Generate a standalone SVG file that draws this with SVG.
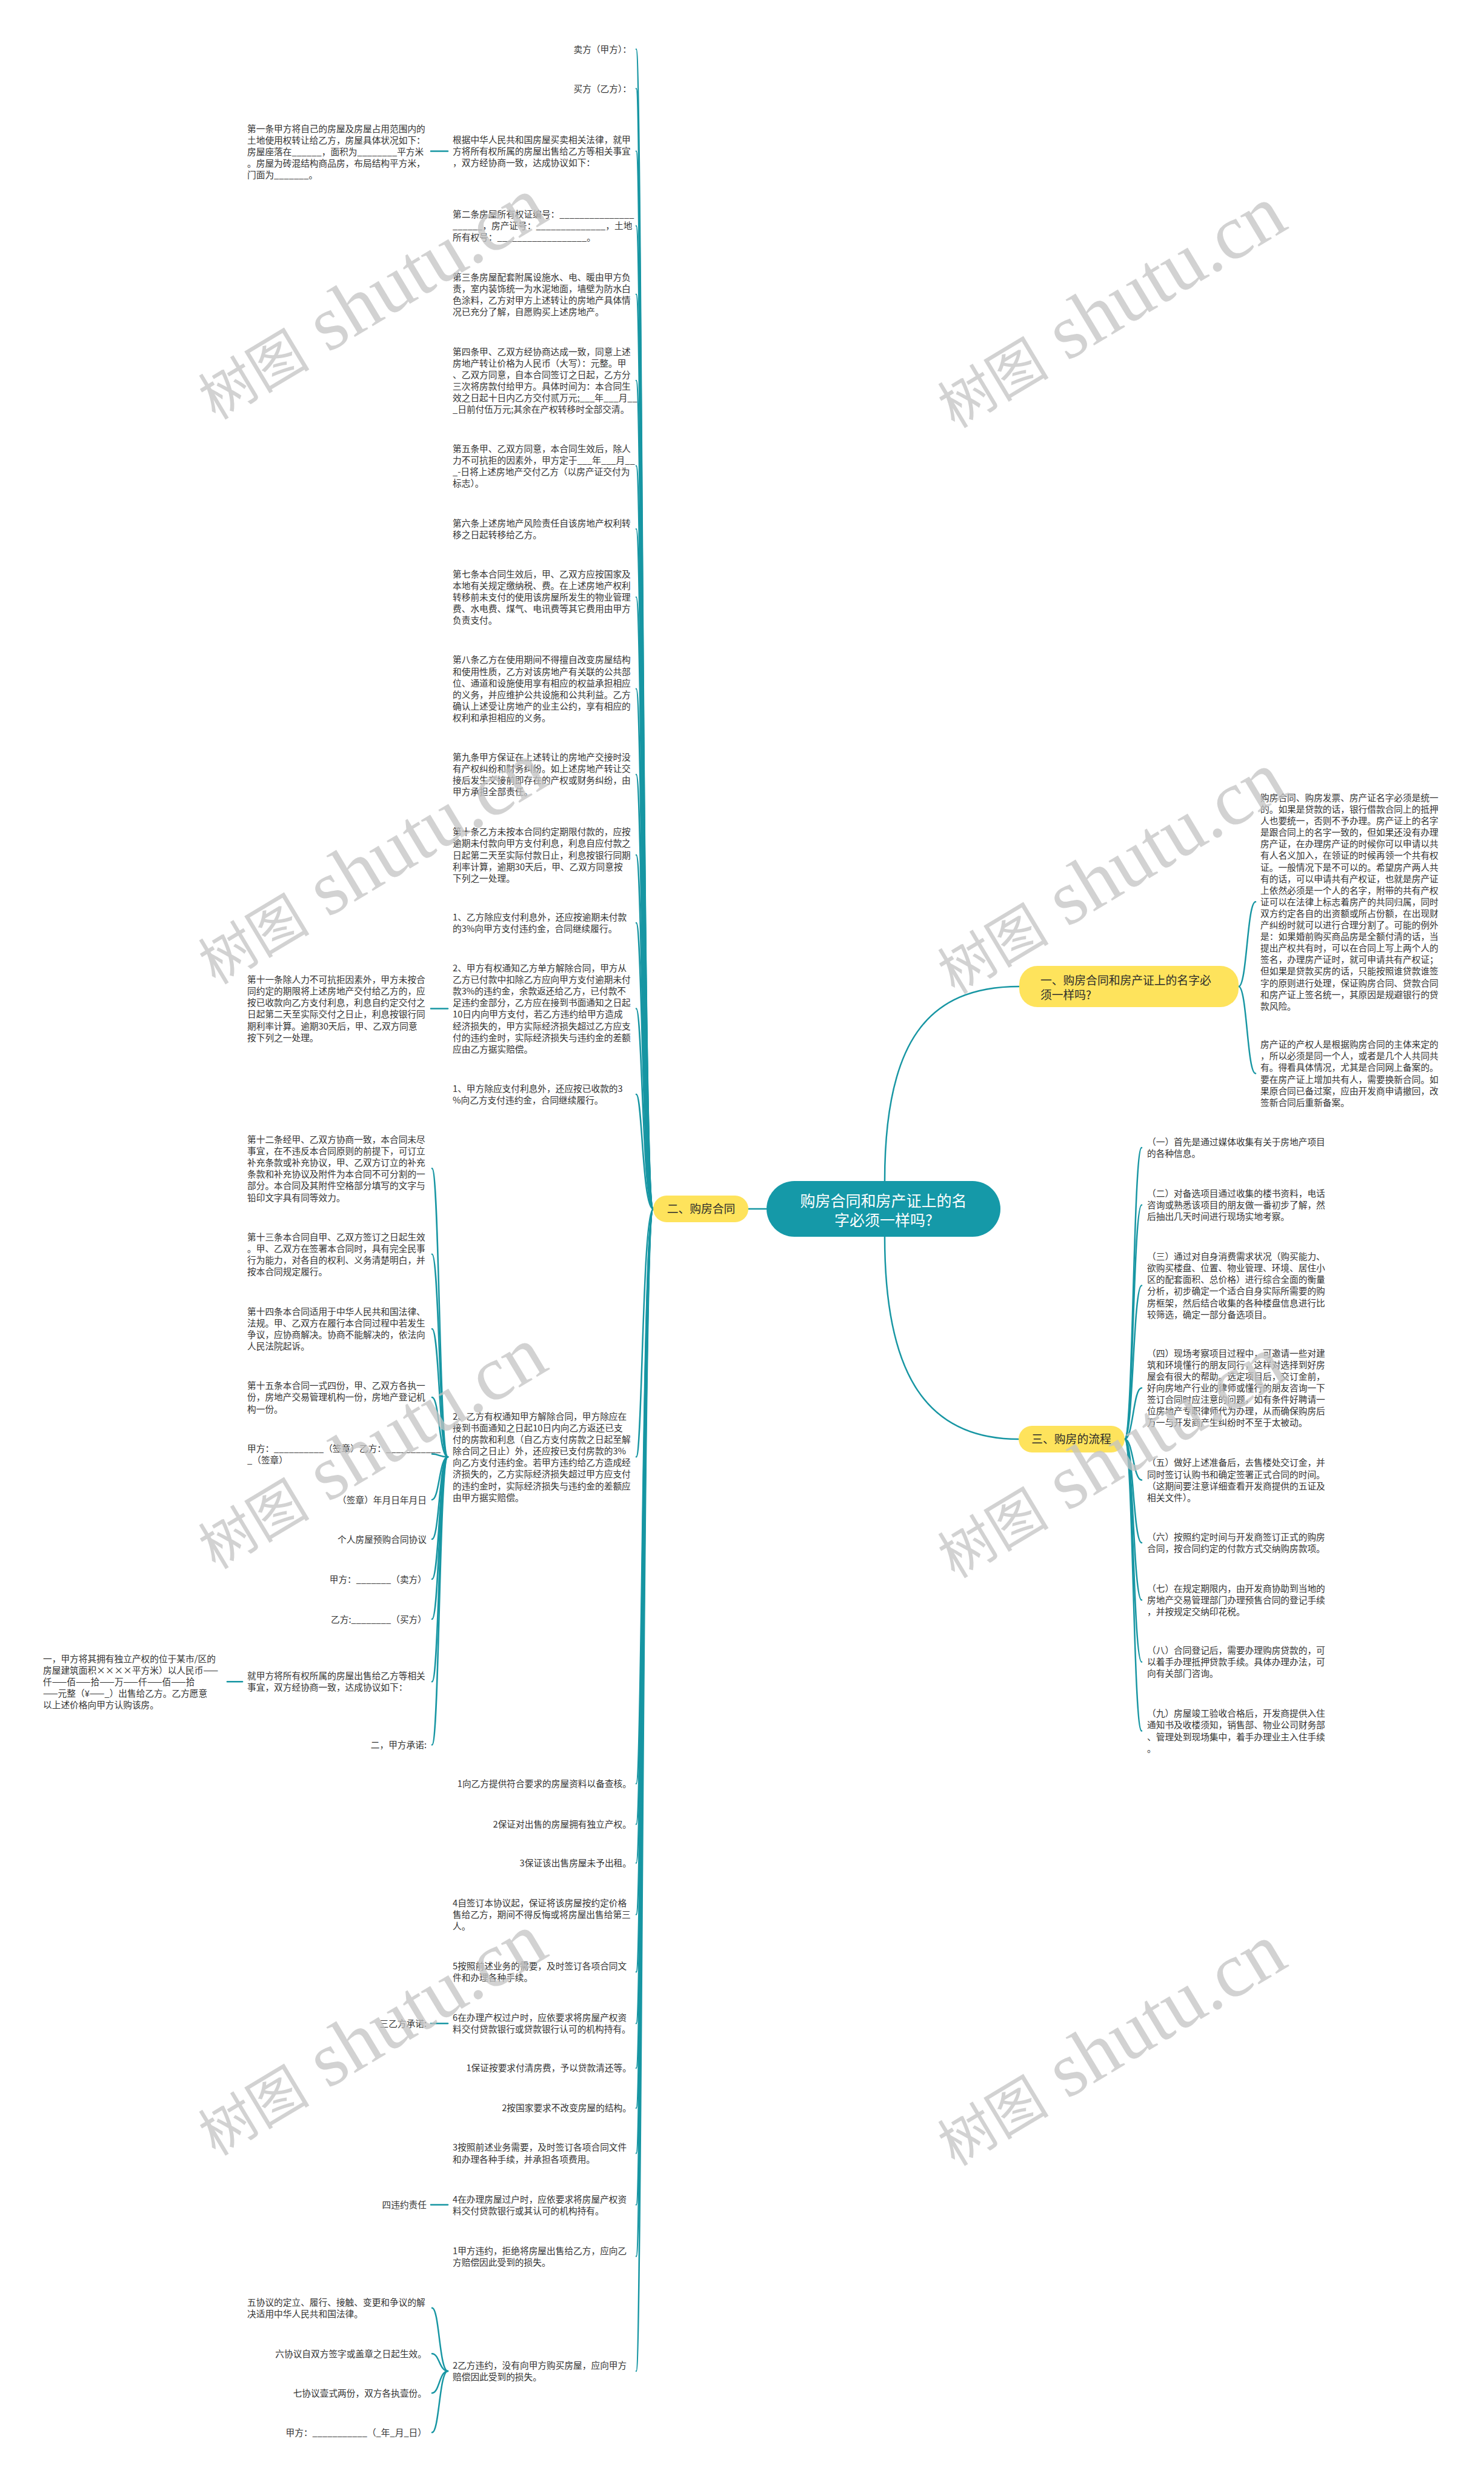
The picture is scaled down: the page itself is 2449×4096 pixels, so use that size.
<svg xmlns="http://www.w3.org/2000/svg" width="2449" height="4096" viewBox="0 0 2449 4096">
<style>
.t{font-family:"Noto Sans CJK SC","Liberation Sans",sans-serif;font-size:14.7px;fill:#333}
.e{text-anchor:end}
.yl{font-family:"Noto Sans CJK SC","Liberation Sans",sans-serif;font-size:18.8px;fill:#2b2b2b}
.ct{font-family:"Noto Sans CJK SC","Liberation Sans",sans-serif;font-size:25px;fill:#fff;text-anchor:middle}
.ln{fill:none;stroke:#1796a3;stroke-width:2.5;stroke-linecap:round}
.yn{fill:#fee35c}
.wm{font-family:"Liberation Serif","Noto Sans CJK SC",serif;fill:#c4c4c4;opacity:.75;text-anchor:middle}
</style>
<rect width="2449" height="4096" fill="#fff"/>
<g id="connectors">
<path class="ln" d="M1265,1995 H1235"/>
<path class="ln" d="M1460,1949 C1460,1720 1530,1628 1682,1628"/>
<path class="ln" d="M1460,2041 C1460,2270 1530,2375 1681,2375"/>
<path class="ln" d="M1078,1995 C1060,1995 1060,81.3 1050,81.3"/>
<path class="ln" d="M1078,1995 C1060,1995 1060,146.3 1050,146.3"/>
<path class="ln" d="M1078,1995 C1060,1995 1060,249.5 1050,249.5"/>
<path class="ln" d="M1078,1995 C1060,1995 1060,372.8 1050,372.8"/>
<path class="ln" d="M1078,1995 C1060,1995 1060,485.7 1050,485.7"/>
<path class="ln" d="M1078,1995 C1060,1995 1060,628.1 1050,628.1"/>
<path class="ln" d="M1078,1995 C1060,1995 1060,768.7 1050,768.7"/>
<path class="ln" d="M1078,1995 C1060,1995 1060,872.9 1050,872.9"/>
<path class="ln" d="M1078,1995 C1060,1995 1060,985.6 1050,985.6"/>
<path class="ln" d="M1078,1995 C1060,1995 1060,1136.7 1050,1136.7"/>
<path class="ln" d="M1078,1995 C1060,1995 1060,1278.2 1050,1278.2"/>
<path class="ln" d="M1078,1995 C1060,1995 1060,1411 1050,1411"/>
<path class="ln" d="M1078,1995 C1060,1995 1060,1522.9 1050,1522.9"/>
<path class="ln" d="M1078,1995 C1060,1995 1060,1664.4 1050,1664.4"/>
<path class="ln" d="M1078,1995 C1060,1995 1060,1805.9 1050,1805.9"/>
<path class="ln" d="M1078,1995 C1060,1995 1060,2404.3 1050,2404.3"/>
<path class="ln" d="M1078,1995 C1060,1995 1060,2943.5 1050,2943.5"/>
<path class="ln" d="M1078,1995 C1060,1995 1060,3010.4 1050,3010.4"/>
<path class="ln" d="M1078,1995 C1060,1995 1060,3074.5 1050,3074.5"/>
<path class="ln" d="M1078,1995 C1060,1995 1060,3159.6 1050,3159.6"/>
<path class="ln" d="M1078,1995 C1060,1995 1060,3254.3 1050,3254.3"/>
<path class="ln" d="M1078,1995 C1060,1995 1060,3339.3 1050,3339.3"/>
<path class="ln" d="M1078,1995 C1060,1995 1060,3412.9 1050,3412.9"/>
<path class="ln" d="M1078,1995 C1060,1995 1060,3478.9 1050,3478.9"/>
<path class="ln" d="M1078,1995 C1060,1995 1060,3553.5 1050,3553.5"/>
<path class="ln" d="M1078,1995 C1060,1995 1060,3638.6 1050,3638.6"/>
<path class="ln" d="M1078,1995 C1060,1995 1060,3723.6 1050,3723.6"/>
<path class="ln" d="M1078,1995 C1060,1995 1060,3912.9 1050,3912.9"/>
<path class="ln" d="M739,249.5 H711"/>
<path class="ln" d="M739,1664.4 H711"/>
<path class="ln" d="M739,3339.3 H711"/>
<path class="ln" d="M739,3638.6 H711"/>
<path class="ln" d="M400,2775.2 H375"/>
<path class="ln" d="M739,2404.3 C725,2404.3 725,1928.3 713,1928.3"/>
<path class="ln" d="M739,2404.3 C725,2404.3 725,2069.7 713,2069.7"/>
<path class="ln" d="M739,2404.3 C725,2404.3 725,2193.1 713,2193.1"/>
<path class="ln" d="M739,2404.3 C725,2404.3 725,2305.9 713,2305.9"/>
<path class="ln" d="M739,2404.3 C725,2404.3 725,2399.6 713,2399.6"/>
<path class="ln" d="M739,2404.3 C725,2404.3 725,2475 713,2475"/>
<path class="ln" d="M739,2404.3 C725,2404.3 725,2540 713,2540"/>
<path class="ln" d="M739,2404.3 C725,2404.3 725,2606 713,2606"/>
<path class="ln" d="M739,2404.3 C725,2404.3 725,2672 713,2672"/>
<path class="ln" d="M739,2404.3 C725,2404.3 725,2775.2 713,2775.2"/>
<path class="ln" d="M739,2404.3 C725,2404.3 725,2879.5 713,2879.5"/>
<path class="ln" d="M739,3912.9 C725,3912.9 725,3808.7 713,3808.7"/>
<path class="ln" d="M739,3912.9 C725,3912.9 725,3884.2 713,3884.2"/>
<path class="ln" d="M739,3912.9 C725,3912.9 725,3949.2 713,3949.2"/>
<path class="ln" d="M739,3912.9 C725,3912.9 725,4014.2 713,4014.2"/>
<path class="ln" d="M2044,1628 C2058,1628 2058,1488.3 2072,1488.3"/>
<path class="ln" d="M2044,1628 C2058,1628 2058,1771.5 2072,1771.5"/>
<path class="ln" d="M1856,2375 C1870,2375 1870,1893.9 1884,1893.9"/>
<path class="ln" d="M1856,2375 C1870,2375 1870,1988.5 1884,1988.5"/>
<path class="ln" d="M1856,2375 C1870,2375 1870,2121.4 1884,2121.4"/>
<path class="ln" d="M1856,2375 C1870,2375 1870,2290.5 1884,2290.5"/>
<path class="ln" d="M1856,2375 C1870,2375 1870,2442.5 1884,2442.5"/>
<path class="ln" d="M1856,2375 C1870,2375 1870,2545.9 1884,2545.9"/>
<path class="ln" d="M1856,2375 C1870,2375 1870,2640.5 1884,2640.5"/>
<path class="ln" d="M1856,2375 C1870,2375 1870,2742.7 1884,2742.7"/>
<path class="ln" d="M1856,2375 C1870,2375 1870,2856.5 1884,2856.5"/>
</g>
<g id="root">
<rect x="1265" y="1949" width="386" height="92" rx="46" fill="#1599a8"/>
<text class="ct"><tspan x="1458" y="1991">购房合同和房产证上的名</tspan><tspan x="1458" y="2023">字必须一样吗?</tspan></text>
</g>
<g id="b1">
<rect class="yn" x="1682" y="1594" width="362" height="68" rx="30"/>
<text class="yl"><tspan x="1717" y="1625">一、购房合同和房产证上的名字必</tspan><tspan x="1717" y="1649">须一样吗?</tspan></text>
</g>
<g id="b2">
<rect class="yn" x="1078" y="1973" width="157" height="44" rx="22"/>
<text class="yl" text-anchor="middle" x="1157" y="2001.7">二、购房合同</text>
</g>
<g id="b3">
<rect class="yn" x="1681" y="2353" width="175" height="44" rx="22"/>
<text class="yl" text-anchor="middle" x="1768" y="2381.7">三、购房的流程</text>
</g>
<g id="a1"><text class="t e" x="1042" y="86.8">卖方（甲方）：</text></g>
<g id="a2"><text class="t e" x="1042" y="151.8">买方（乙方）：</text></g>
<g id="a3"><text class="t"><tspan x="747" y="235.9">根据中华人民共和国房屋买卖相关法律，就甲</tspan><tspan x="747" y="255">方将所有权所属的房屋出售给乙方等相关事宜</tspan><tspan x="747" y="274.1">，双方经协商一致，达成协议如下：</tspan></text></g>
<g id="a4"><text class="t"><tspan x="747" y="359.2">第二条房屋所有权证编号：_______________</tspan><tspan x="747" y="378.3">______，房产证号：______________，土地</tspan><tspan x="747" y="397.4">所有权号：__________________。</tspan></text></g>
<g id="a5"><text class="t"><tspan x="747" y="462.5">第三条房屋配套附属设施水、电、暖由甲方负</tspan><tspan x="747" y="481.6">责，室内装饰统一为水泥地面，墙壁为防水白</tspan><tspan x="747" y="500.7">色涂料，乙方对甲方上述转让的房地产具体情</tspan><tspan x="747" y="519.8">况已充分了解，自愿购买上述房地产。</tspan></text></g>
<g id="a6"><text class="t"><tspan x="747" y="585.8">第四条甲、乙双方经协商达成一致，同意上述</tspan><tspan x="747" y="604.9">房地产转让价格为人民币（大写）：元整。甲</tspan><tspan x="747" y="624">、乙双方同意，自本合同签订之日起，乙方分</tspan><tspan x="747" y="643.1">三次将房款付给甲方。具体时间为：本合同生</tspan><tspan x="747" y="662.2">效之日起十日内乙方交付贰万元;___年___月__</tspan><tspan x="747" y="681.3">_日前付伍万元;其余在产权转移时全部交清。</tspan></text></g>
<g id="a7"><text class="t"><tspan x="747" y="745.5">第五条甲、乙双方同意，本合同生效后，除人</tspan><tspan x="747" y="764.6">力不可抗拒的因素外，甲方定于___年___月__</tspan><tspan x="747" y="783.7">_-日将上述房地产交付乙方（以房产证交付为</tspan><tspan x="747" y="802.8">标志）。</tspan></text></g>
<g id="a8"><text class="t"><tspan x="747" y="868.8">第六条上述房地产风险责任自该房地产权利转</tspan><tspan x="747" y="887.9">移之日起转移给乙方。</tspan></text></g>
<g id="a9"><text class="t"><tspan x="747" y="952.9">第七条本合同生效后，甲、乙双方应按国家及</tspan><tspan x="747" y="972">本地有关规定缴纳税、费。在上述房地产权利</tspan><tspan x="747" y="991.1">转移前未支付的使用该房屋所发生的物业管理</tspan><tspan x="747" y="1010.2">费、水电费、煤气、电讯费等其它费用由甲方</tspan><tspan x="747" y="1029.3">负责支付。</tspan></text></g>
<g id="a10"><text class="t"><tspan x="747" y="1094.4">第八条乙方在使用期间不得擅自改变房屋结构</tspan><tspan x="747" y="1113.5">和使用性质，乙方对该房地产有关联的公共部</tspan><tspan x="747" y="1132.6">位、通道和设施使用享有相应的权益承担相应</tspan><tspan x="747" y="1151.7">的义务，并应维护公共设施和公共利益。乙方</tspan><tspan x="747" y="1170.8">确认上述受让房地产的业主公约，享有相应的</tspan><tspan x="747" y="1189.9">权利和承担相应的义务。</tspan></text></g>
<g id="a11"><text class="t"><tspan x="747" y="1255">第九条甲方保证在上述转让的房地产交接时没</tspan><tspan x="747" y="1274.1">有产权纠纷和财务纠纷。如上述房地产转让交</tspan><tspan x="747" y="1293.2">接后发生交接前即存在的产权或财务纠纷，由</tspan><tspan x="747" y="1312.3">甲方承担全部责任。</tspan></text></g>
<g id="a12"><text class="t"><tspan x="747" y="1378.3">第十条乙方未按本合同约定期限付款的，应按</tspan><tspan x="747" y="1397.4">逾期未付款向甲方支付利息，利息自应付款之</tspan><tspan x="747" y="1416.5">日起第二天至实际付款日止，利息按银行同期</tspan><tspan x="747" y="1435.6">利率计算，逾期30天后，甲、乙双方同意按</tspan><tspan x="747" y="1454.7">下列之一处理。</tspan></text></g>
<g id="a13"><text class="t"><tspan x="747" y="1518.8">1、乙方除应支付利息外，还应按逾期未付款</tspan><tspan x="747" y="1537.9">的3%向甲方支付违约金，合同继续履行。</tspan></text></g>
<g id="a14"><text class="t"><tspan x="747" y="1603">2、甲方有权通知乙方单方解除合同，甲方从</tspan><tspan x="747" y="1622.1">乙方已付款中扣除乙方应向甲方支付逾期未付</tspan><tspan x="747" y="1641.2">款3%的违约金，余款返还给乙方，已付款不</tspan><tspan x="747" y="1660.3">足违约金部分，乙方应在接到书面通知之日起</tspan><tspan x="747" y="1679.4">10日内向甲方支付，若乙方违约给甲方造成</tspan><tspan x="747" y="1698.5">经济损失的，甲方实际经济损失超过乙方应支</tspan><tspan x="747" y="1717.6">付的违约金时，实际经济损失与违约金的差额</tspan><tspan x="747" y="1736.7">应由乙方据实赔偿。</tspan></text></g>
<g id="a15"><text class="t"><tspan x="747" y="1801.8">1、甲方除应支付利息外，还应按已收款的3</tspan><tspan x="747" y="1820.9">%向乙方支付违约金，合同继续履行。</tspan></text></g>
<g id="a16"><text class="t"><tspan x="747" y="2342.9">2、乙方有权通知甲方解除合同，甲方除应在</tspan><tspan x="747" y="2362">接到书面通知之日起10日内向乙方返还已支</tspan><tspan x="747" y="2381.1">付的房款和利息（自乙方支付房款之日起至解</tspan><tspan x="747" y="2400.2">除合同之日止）外，还应按已支付房款的3%</tspan><tspan x="747" y="2419.3">向乙方支付违约金。若甲方违约给乙方造成经</tspan><tspan x="747" y="2438.4">济损失的，乙方实际经济损失超过甲方应支付</tspan><tspan x="747" y="2457.5">的违约金时，实际经济损失与违约金的差额应</tspan><tspan x="747" y="2476.6">由甲方据实赔偿。</tspan></text></g>
<g id="a17"><text class="t e" x="1042" y="2949">1向乙方提供符合要求的房屋资料以备查核。</text></g>
<g id="a18"><text class="t e" x="1042" y="3015.9">2保证对出售的房屋拥有独立产权。</text></g>
<g id="a19"><text class="t e" x="1042" y="3080">3保证该出售房屋未予出租。</text></g>
<g id="a20"><text class="t"><tspan x="747" y="3146">4自签订本协议起，保证将该房屋按约定价格</tspan><tspan x="747" y="3165.1">售给乙方，期间不得反悔或将房屋出售给第三</tspan><tspan x="747" y="3184.2">人。</tspan></text></g>
<g id="a21"><text class="t"><tspan x="747" y="3250.2">5按照前述业务的需要，及时签订各项合同文</tspan><tspan x="747" y="3269.3">件和办理各种手续。</tspan></text></g>
<g id="a22"><text class="t"><tspan x="747" y="3335.2">6在办理产权过户时，应依要求将房屋产权资</tspan><tspan x="747" y="3354.3">料交付贷款银行或贷款银行认可的机构持有。</tspan></text></g>
<g id="a23"><text class="t e" x="1042" y="3418.4">1保证按要求付清房费，予以贷款清还等。</text></g>
<g id="a24"><text class="t e" x="1042" y="3484.4">2按国家要求不改变房屋的结构。</text></g>
<g id="a25"><text class="t"><tspan x="747" y="3549.4">3按照前述业务需要，及时签订各项合同文件</tspan><tspan x="747" y="3568.5">和办理各种手续，并承担各项费用。</tspan></text></g>
<g id="a26"><text class="t"><tspan x="747" y="3634.5">4在办理房屋过户时，应依要求将房屋产权资</tspan><tspan x="747" y="3653.6">料交付贷款银行或其认可的机构持有。</tspan></text></g>
<g id="a27"><text class="t"><tspan x="747" y="3719.5">1甲方违约，拒绝将房屋出售给乙方，应向乙</tspan><tspan x="747" y="3738.6">方赔偿因此受到的损失。</tspan></text></g>
<g id="a28"><text class="t"><tspan x="747" y="3908.8">2乙方违约，没有向甲方购买房屋，应向甲方</tspan><tspan x="747" y="3927.9">赔偿因此受到的损失。</tspan></text></g>
<g id="bb1"><text class="t"><tspan x="408" y="217.7">第一条甲方将自己的房屋及房屋占用范围内的</tspan><tspan x="408" y="236.8">土地使用权转让给乙方，房屋具体状况如下：</tspan><tspan x="408" y="255.9">房屋座落在______，面积为________平方米</tspan><tspan x="408" y="275">。房屋为砖混结构商品房，布局结构平方米，</tspan><tspan x="408" y="294.1">门面为_______。</tspan></text></g>
<g id="bb2"><text class="t"><tspan x="408" y="1622.1">第十一条除人力不可抗拒因素外，甲方未按合</tspan><tspan x="408" y="1641.2">同约定的期限将上述房地产交付给乙方的，应</tspan><tspan x="408" y="1660.3">按已收款向乙方支付利息，利息自约定交付之</tspan><tspan x="408" y="1679.4">日起第二天至实际交付之日止，利息按银行同</tspan><tspan x="408" y="1698.5">期利率计算。逾期30天后，甲、乙双方同意</tspan><tspan x="408" y="1717.6">按下列之一处理。</tspan></text></g>
<g id="bb3"><text class="t"><tspan x="408" y="1886">第十二条经甲、乙双方协商一致，本合同未尽</tspan><tspan x="408" y="1905.1">事宜，在不违反本合同原则的前提下，可订立</tspan><tspan x="408" y="1924.2">补充条款或补充协议，甲、乙双方订立的补充</tspan><tspan x="408" y="1943.3">条款和补充协议及附件为本合同不可分割的一</tspan><tspan x="408" y="1962.4">部分。本合同及其附件空格部分填写的文字与</tspan><tspan x="408" y="1981.5">铅印文字具有同等效力。</tspan></text></g>
<g id="bb4"><text class="t"><tspan x="408" y="2046.5">第十三条本合同自甲、乙双方签订之日起生效</tspan><tspan x="408" y="2065.6">。甲、乙双方在签署本合同时，具有完全民事</tspan><tspan x="408" y="2084.7">行为能力，对各自的权利、义务清楚明白，并</tspan><tspan x="408" y="2103.8">按本合同规定履行。</tspan></text></g>
<g id="bb5"><text class="t"><tspan x="408" y="2169.9">第十四条本合同适用于中华人民共和国法律、</tspan><tspan x="408" y="2189">法规。甲、乙双方在履行本合同过程中若发生</tspan><tspan x="408" y="2208.1">争议，应协商解决。协商不能解决的，依法向</tspan><tspan x="408" y="2227.2">人民法院起诉。</tspan></text></g>
<g id="bb6"><text class="t"><tspan x="408" y="2292.3">第十五条本合同一式四份，甲、乙双方各执一</tspan><tspan x="408" y="2311.4">份，房地产交易管理机构一份，房地产登记机</tspan><tspan x="408" y="2330.5">构一份。</tspan></text></g>
<g id="bb7"><text class="t"><tspan x="408" y="2395.5">甲方：__________（签章）乙方：___________</tspan><tspan x="408" y="2414.6">_（签章）</tspan></text></g>
<g id="bb8"><text class="t e" x="704" y="2480.5">（签章）年月日年月日</text></g>
<g id="bb9"><text class="t e" x="704" y="2545.5">个人房屋预购合同协议</text></g>
<g id="bb10"><text class="t e" x="704" y="2611.5">甲方：_______（卖方）</text></g>
<g id="bb11"><text class="t e" x="704" y="2677.5">乙方:________（买方）</text></g>
<g id="bb12"><text class="t"><tspan x="408" y="2771.2">就甲方将所有权所属的房屋出售给乙方等相关</tspan><tspan x="408" y="2790.3">事宜，双方经协商一致，达成协议如下：</tspan></text></g>
<g id="bb13"><text class="t e" x="704" y="2885">二，甲方承诺:</text></g>
<g id="bb14"><text class="t e" x="704" y="3344.8">三乙方承诺:</text></g>
<g id="bb15"><text class="t e" x="704" y="3644">四违约责任</text></g>
<g id="bb16"><text class="t"><tspan x="408" y="3804.6">五协议的定立、履行、接触、变更和争议的解</tspan><tspan x="408" y="3823.7">决适用中华人民共和国法律。</tspan></text></g>
<g id="bb17"><text class="t e" x="704" y="3889.7">六协议自双方签字或盖章之日起生效。</text></g>
<g id="bb18"><text class="t e" x="704" y="3954.7">七协议壹式两份，双方各执壹份。</text></g>
<g id="bb19"><text class="t e" x="704" y="4019.7">甲方：___________（_年_月_日）</text></g>
<g id="c1"><text class="t"><tspan x="71" y="2742.5">一，甲方将其拥有独立产权的位于某市/区的</tspan><tspan x="71" y="2761.6">房屋建筑面积××××平方米）以人民币——</tspan><tspan x="71" y="2780.7">仟——佰——拾——万——仟——佰——拾</tspan><tspan x="71" y="2799.8">——元整（¥——_）出售给乙方。乙方愿意</tspan><tspan x="71" y="2818.9">以上述价格向甲方认购该房。</tspan></text></g>
<g id="r1"><text class="t"><tspan x="2080" y="1321.9">购房合同、购房发票、房产证名字必须是统一</tspan><tspan x="2080" y="1341">的。如果是贷款的话，银行借款合同上的抵押</tspan><tspan x="2080" y="1360.1">人也要统一，否则不予办理。房产证上的名字</tspan><tspan x="2080" y="1379.2">是跟合同上的名字一致的，但如果还没有办理</tspan><tspan x="2080" y="1398.3">房产证，在办理房产证的时候你可以申请以共</tspan><tspan x="2080" y="1417.4">有人名义加入，在领证的时候再领一个共有权</tspan><tspan x="2080" y="1436.5">证。一般情况下是不可以的。希望房产两人共</tspan><tspan x="2080" y="1455.6">有的话，可以申请共有产权证，也就是房产证</tspan><tspan x="2080" y="1474.7">上依然必须是一个人的名字，附带的共有产权</tspan><tspan x="2080" y="1493.8">证可以在法律上标志着房产的共同归属，同时</tspan><tspan x="2080" y="1512.9">双方约定各自的出资额或所占份额，在出现财</tspan><tspan x="2080" y="1532">产纠纷时就可以进行合理分割了。可能的例外</tspan><tspan x="2080" y="1551.1">是：如果婚前购买商品房是全额付清的话，当</tspan><tspan x="2080" y="1570.2">提出产权共有时，可以在合同上写上两个人的</tspan><tspan x="2080" y="1589.3">签名，办理房产证时，就可申请共有产权证；</tspan><tspan x="2080" y="1608.4">但如果是贷款买房的话，只能按照谁贷款谁签</tspan><tspan x="2080" y="1627.5">字的原则进行处理，保证购房合同、贷款合同</tspan><tspan x="2080" y="1646.6">和房产证上签名统一，其原因是规避银行的贷</tspan><tspan x="2080" y="1665.7">款风险。</tspan></text></g>
<g id="r2"><text class="t"><tspan x="2080" y="1729.2">房产证的产权人是根据购房合同的主体来定的</tspan><tspan x="2080" y="1748.3">，所以必须是同一个人，或者是几个人共同共</tspan><tspan x="2080" y="1767.4">有。得看具体情况，尤其是合同网上备案的。</tspan><tspan x="2080" y="1786.5">要在房产证上增加共有人，需要换新合同。如</tspan><tspan x="2080" y="1805.6">果原合同已备过案，应由开发商申请撤回，改</tspan><tspan x="2080" y="1824.7">签新合同后重新备案。</tspan></text></g>
<g id="r3"><text class="t"><tspan x="1893" y="1889.8">（一）首先是通过媒体收集有关于房地产项目</tspan><tspan x="1893" y="1908.9">的各种信息。</tspan></text></g>
<g id="r4"><text class="t"><tspan x="1893" y="1974.9">（二）对备选项目通过收集的楼书资料，电话</tspan><tspan x="1893" y="1994">咨询或熟悉该项目的朋友做一番初步了解，然</tspan><tspan x="1893" y="2013.1">后抽出几天时间进行现场实地考察。</tspan></text></g>
<g id="r5"><text class="t"><tspan x="1893" y="2079.1">（三）通过对自身消费需求状况（购买能力、</tspan><tspan x="1893" y="2098.2">欲购买楼盘、位置、物业管理、环境、居住小</tspan><tspan x="1893" y="2117.3">区的配套面积、总价格）进行综合全面的衡量</tspan><tspan x="1893" y="2136.4">分析，初步确定一个适合自身实际所需要的购</tspan><tspan x="1893" y="2155.5">房框架，然后结合收集的各种楼盘信息进行比</tspan><tspan x="1893" y="2174.6">较筛选，确定一部分备选项目。</tspan></text></g>
<g id="r6"><text class="t"><tspan x="1893" y="2238.7">（四）现场考察项目过程中，可邀请一些对建</tspan><tspan x="1893" y="2257.8">筑和环境懂行的朋友同行，这样对选择到好房</tspan><tspan x="1893" y="2276.9">屋会有很大的帮助。选定项目后，交订金前，</tspan><tspan x="1893" y="2296">好向房地产行业的律师或懂行的朋友咨询一下</tspan><tspan x="1893" y="2315.1">签订合同时应注意的问题，如有条件好聘请一</tspan><tspan x="1893" y="2334.2">位房地产专职律师代为办理，从而确保购房后</tspan><tspan x="1893" y="2353.3">万一与开发商产生纠纷时不至于太被动。</tspan></text></g>
<g id="r7"><text class="t"><tspan x="1893" y="2419.4">（五）做好上述准备后，去售楼处交订金，并</tspan><tspan x="1893" y="2438.5">同时签订认购书和确定签署正式合同的时间。</tspan><tspan x="1893" y="2457.6">（这期间要注意详细查看开发商提供的五证及</tspan><tspan x="1893" y="2476.7">相关文件）。</tspan></text></g>
<g id="r8"><text class="t"><tspan x="1893" y="2541.8">（六）按照约定时间与开发商签订正式的购房</tspan><tspan x="1893" y="2560.9">合同，按合同约定的付款方式交纳购房款项。</tspan></text></g>
<g id="r9"><text class="t"><tspan x="1893" y="2626.9">（七）在规定期限内，由开发商协助到当地的</tspan><tspan x="1893" y="2646">房地产交易管理部门办理预售合同的登记手续</tspan><tspan x="1893" y="2665.1">，并按规定交纳印花税。</tspan></text></g>
<g id="r10"><text class="t"><tspan x="1893" y="2729.1">（八）合同登记后，需要办理购房贷款的，可</tspan><tspan x="1893" y="2748.2">以着手办理抵押贷款手续。具体办理办法，可</tspan><tspan x="1893" y="2767.3">向有关部门咨询。</tspan></text></g>
<g id="r11"><text class="t"><tspan x="1893" y="2833.3">（九）房屋竣工验收合格后，开发商提供入住</tspan><tspan x="1893" y="2852.4">通知书及收楼须知，销售部、物业公司财务部</tspan><tspan x="1893" y="2871.5">、管理处到现场集中，着手办理业主入住手续</tspan><tspan x="1893" y="2890.6">。</tspan></text></g>
<g id="watermarks">
<text class="wm" transform="translate(617,502) rotate(-31)" y="30"><tspan font-size="92">树图</tspan><tspan font-size="128"> shutu.cn</tspan></text>
<text class="wm" transform="translate(617,1434) rotate(-31)" y="30"><tspan font-size="92">树图</tspan><tspan font-size="128"> shutu.cn</tspan></text>
<text class="wm" transform="translate(617,2399) rotate(-31)" y="30"><tspan font-size="92">树图</tspan><tspan font-size="128"> shutu.cn</tspan></text>
<text class="wm" transform="translate(617,3367) rotate(-31)" y="30"><tspan font-size="92">树图</tspan><tspan font-size="128"> shutu.cn</tspan></text>
<text class="wm" transform="translate(1837,516) rotate(-31)" y="30"><tspan font-size="92">树图</tspan><tspan font-size="128"> shutu.cn</tspan></text>
<text class="wm" transform="translate(1837,1450) rotate(-31)" y="30"><tspan font-size="92">树图</tspan><tspan font-size="128"> shutu.cn</tspan></text>
<text class="wm" transform="translate(1837,2414) rotate(-31)" y="30"><tspan font-size="92">树图</tspan><tspan font-size="128"> shutu.cn</tspan></text>
<text class="wm" transform="translate(1837,3384) rotate(-31)" y="30"><tspan font-size="92">树图</tspan><tspan font-size="128"> shutu.cn</tspan></text>
</g>
</svg>
